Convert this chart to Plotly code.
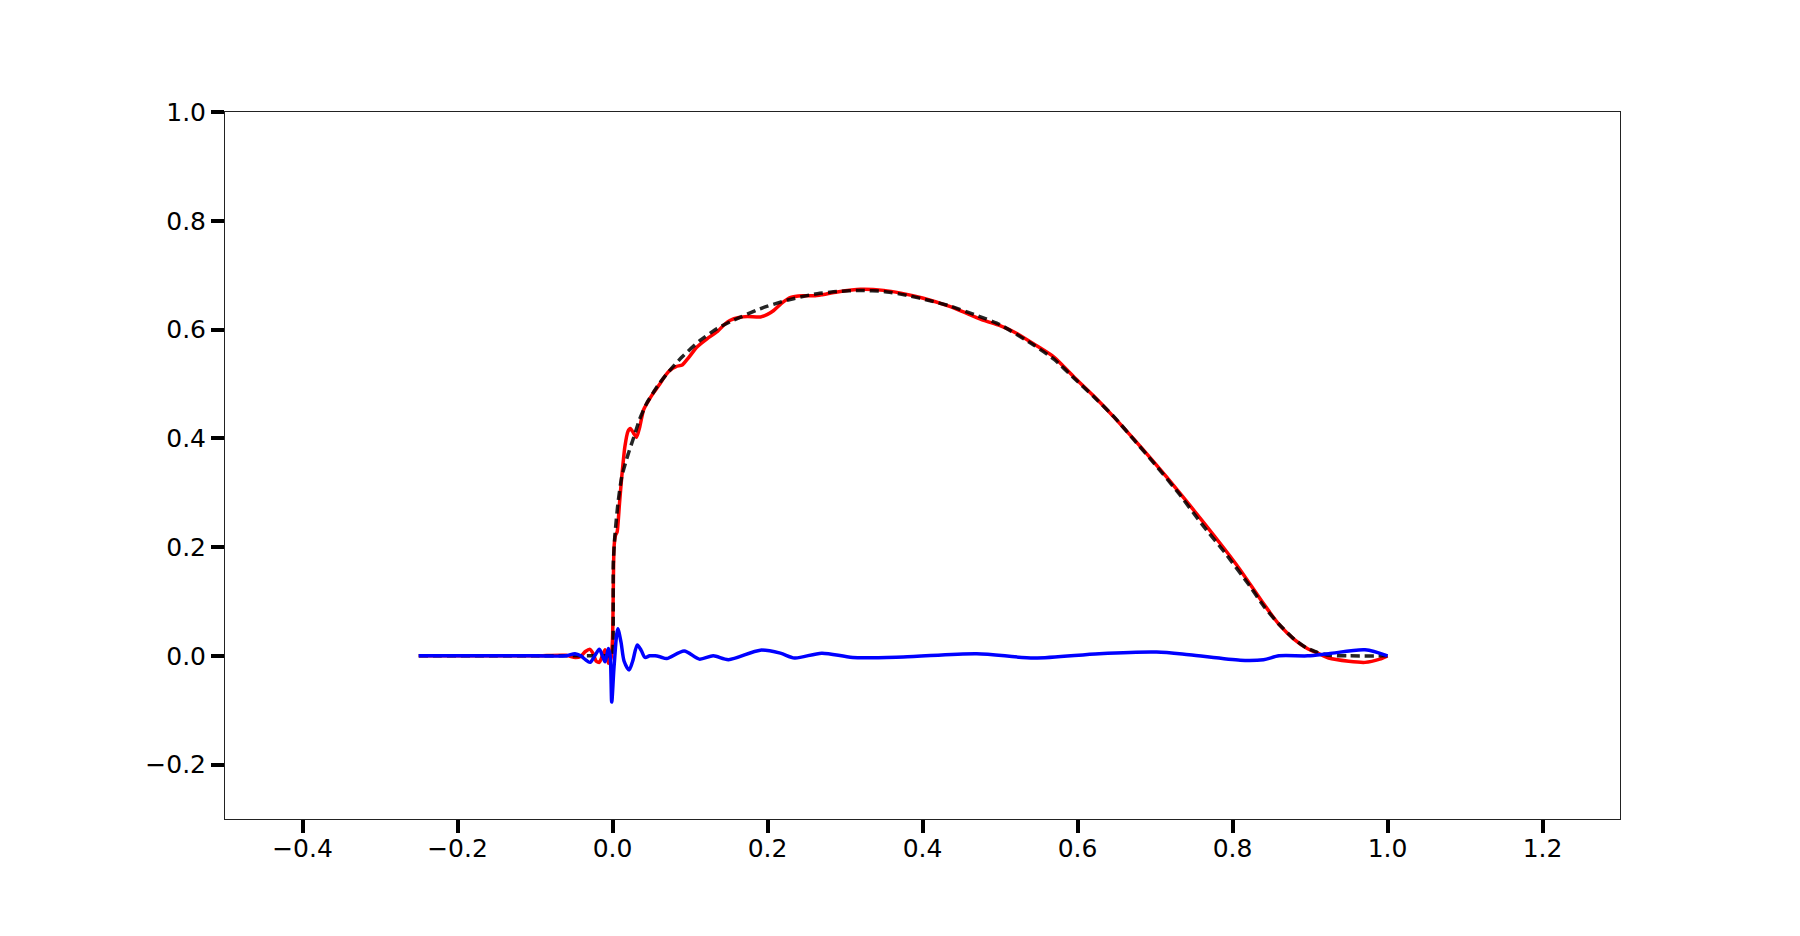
import plotly.graph_objects as go

# reference (dashed black)
ref_x = [-0.25, -0.1, -0.001, 0.0, 0.001, 0.003, 0.007, 0.012, 0.02, 0.027, 0.035,
         0.044, 0.06, 0.074, 0.09, 0.113, 0.135, 0.156, 0.19, 0.225, 0.26, 0.29,
         0.32, 0.35, 0.38, 0.41, 0.436, 0.47, 0.5, 0.544, 0.57, 0.596, 0.62, 0.6475,
         0.673, 0.7, 0.73, 0.76, 0.79, 0.82, 0.841, 0.86, 0.88, 0.895, 0.91, 0.925,
         0.95, 1.0]
ref_y = [0.0, 0.0, 0.0, 0.0, 0.17, 0.22, 0.28, 0.33, 0.37, 0.40, 0.435,
         0.464, 0.50, 0.525, 0.55, 0.58, 0.602, 0.617, 0.638, 0.654, 0.665, 0.67,
         0.672, 0.67, 0.663, 0.653, 0.643, 0.626, 0.609, 0.571, 0.545, 0.51, 0.478, 0.439,
         0.397, 0.352, 0.30, 0.243, 0.19, 0.133, 0.09, 0.058, 0.03, 0.015, 0.006, 0.001,
         0.0, 0.0]

# approximation (red)
approx_x = [-0.25, -0.1, -0.06, -0.048, -0.041, -0.035, -0.029, -0.025, -0.021, -0.017,
            -0.013, -0.0096, -0.007, -0.0053, -0.002, 0.0, 0.001, 0.002, 0.004, 0.006,
            0.009, 0.012, 0.016, 0.020, 0.023, 0.027, 0.031, 0.035, 0.040, 0.046, 0.053,
            0.061, 0.068, 0.074, 0.082, 0.09, 0.098, 0.109, 0.122, 0.135, 0.145, 0.152,
            0.163, 0.174, 0.191, 0.2, 0.208, 0.218, 0.23, 0.245, 0.26, 0.27, 0.29, 0.32,
            0.35, 0.372, 0.40, 0.436, 0.46, 0.479, 0.5, 0.52, 0.544, 0.57, 0.596, 0.62,
            0.647, 0.673, 0.70, 0.73, 0.76, 0.79, 0.81, 0.84, 0.86, 0.88, 0.897, 0.91,
            0.924, 0.95, 0.971, 0.99, 1.0]
approx_y = [0.0, 0.0, 0.001, -0.003, -0.001, 0.008, 0.012, 0.004, -0.010, -0.012,
            0.0, 0.011, 0.0, -0.0136, -0.005, 0.03, 0.12, 0.2, 0.222, 0.228,
            0.28, 0.33, 0.385, 0.413, 0.418, 0.41, 0.402, 0.42, 0.452, 0.468, 0.484,
            0.50, 0.515, 0.525, 0.532, 0.535, 0.548, 0.568, 0.583, 0.596, 0.61, 0.617,
            0.622, 0.624, 0.623, 0.628, 0.635, 0.648, 0.659, 0.662, 0.662, 0.664, 0.669, 0.674,
            0.672, 0.667, 0.658, 0.642, 0.628, 0.617, 0.607, 0.594, 0.573, 0.549, 0.512, 0.479,
            0.439, 0.398, 0.354, 0.303, 0.25, 0.196, 0.158, 0.096, 0.058, 0.03, 0.013, 0.005,
            -0.004, -0.01, -0.012, -0.006, 0.0]

# error (blue)
err_x = [-0.25, -0.1, -0.06, -0.0484, -0.041, -0.035, -0.029, -0.023, -0.017, -0.013,
         -0.0096, -0.0075, -0.0053, -0.003, -0.001, 0.002, 0.0068, 0.011, 0.015, 0.0214,
         0.026, 0.032, 0.037, 0.042, 0.048, 0.055, 0.062, 0.070, 0.0925, 0.112, 0.130,
         0.1497, 0.1908, 0.2166, 0.235, 0.27, 0.31, 0.375, 0.47, 0.544, 0.628, 0.702,
         0.744, 0.81, 0.84, 0.86, 0.897, 0.924, 0.971, 1.0]
err_y = [0.0, 0.0, 0.0, 0.004, 0.0, -0.007, -0.012, 0.0, 0.012, 0.0,
         -0.011, 0.0, 0.0136, 0.0, -0.085, -0.02, 0.05, 0.025, -0.01, -0.026,
         -0.01, 0.02, 0.01, -0.003, 0.0, 0.0, -0.002, -0.005, 0.009, -0.006, 0.0,
         -0.007, 0.0105, 0.005, -0.004, 0.005, -0.003, -0.002, 0.004, -0.004, 0.004, 0.007,
         0.002, -0.008, -0.007, 0.0, 0.0, 0.004, 0.011, 0.0]

x_ticks = [-0.4, -0.2, 0.0, 0.2, 0.4, 0.6, 0.8, 1.0, 1.2]
y_ticks = [-0.2, 0.0, 0.2, 0.4, 0.6, 0.8, 1.0]


def fmt(v):
    return f"{v:.1f}".replace("-", "\u2212")


fig = go.Figure()
fig.add_trace(go.Scatter(x=approx_x, y=approx_y, mode="lines",
                         line=dict(color="#ff0000", width=3.5, shape="spline", smoothing=0.6)))
fig.add_trace(go.Scatter(x=ref_x, y=ref_y, mode="lines", opacity=0.85,
                         line=dict(color="#000000", width=3.5, dash="9px,5px",
                                   shape="spline", smoothing=0.5)))
fig.add_trace(go.Scatter(x=err_x, y=err_y, mode="lines",
                         line=dict(color="#0000ff", width=3.5, shape="spline", smoothing=0.8)))

axis_common = dict(
    showgrid=False, zeroline=False, showline=True, mirror=True,
    linecolor="#222222", linewidth=1,
    ticks="outside", ticklen=13, tickwidth=4, tickcolor="#000000",
    tickfont=dict(family="DejaVu Sans", size=25, color="#000000"),
)

fig.update_layout(
    width=1800, height=936,
    showlegend=False,
    paper_bgcolor="white", plot_bgcolor="white",
    margin=dict(l=217, r=188, t=104, b=125),
    xaxis=dict(range=[-0.5, 1.3], tickvals=x_ticks, ticklabelstandoff=-6,
               ticktext=[fmt(v) for v in x_ticks], **axis_common),
    yaxis=dict(range=[-0.3, 1.0], tickvals=y_ticks,
               ticktext=[fmt(v) for v in y_ticks], **axis_common),
)

fig.write_html("out.html")
